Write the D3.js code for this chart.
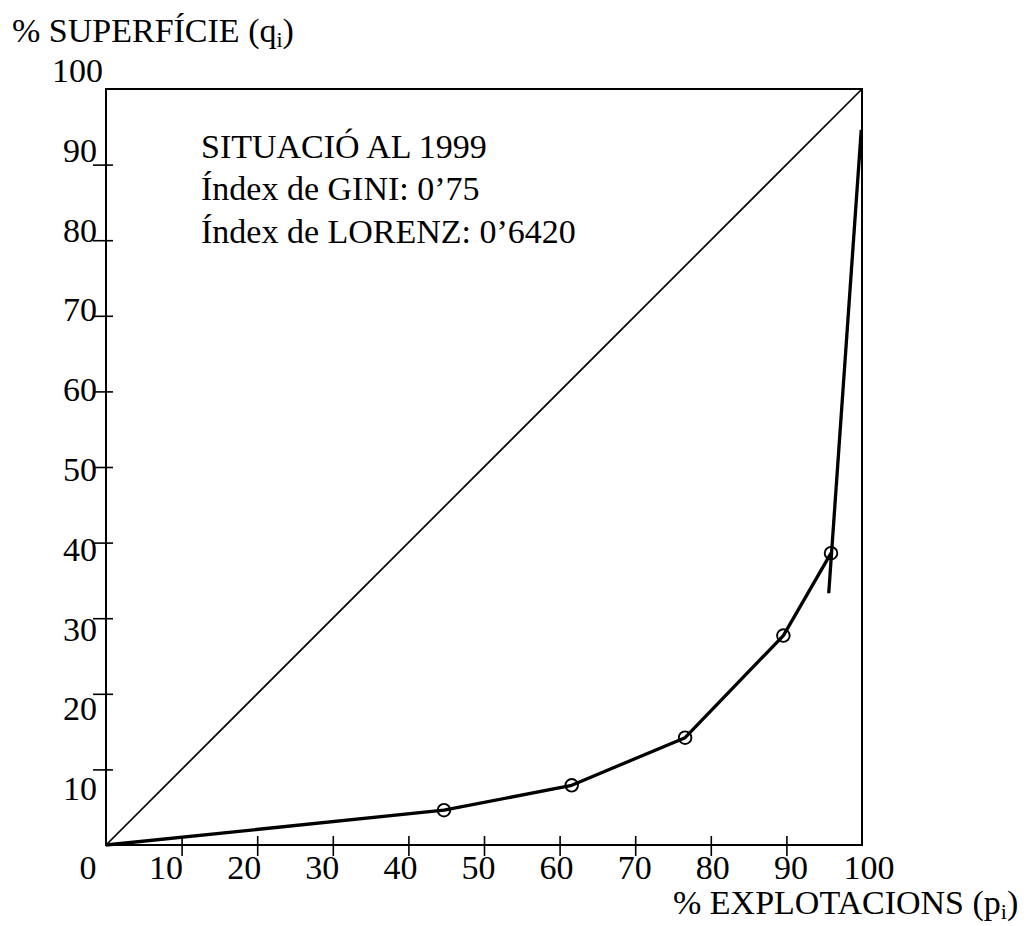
<!DOCTYPE html>
<html>
<head>
<meta charset="utf-8">
<script src="https://cdn.jsdelivr.net/npm/d3@7"></script>
<style>
  body { margin: 0; background: #fff; }
  text { font-family: "Liberation Serif", "Times New Roman", serif; fill: #000; }
</style>
</head>
<body>
<div id="lorenz-canvas"></div>
<script>
// Corba de Lorenz: % explotacions acumulades vs % superfície acumulada
const pctExplotacions = [0, 44.7, 61.6, 76.6, 89.6, 95.9];
const pctSuperficie = [0, 4.6, 7.9, 14.2, 27.7, 38.6];
// tram final (gairebé vertical)
const tailExplotacions = [95.6, 99.9];
const tailSuperficie = [33.3, 94.6];

const tickValues = [10, 20, 30, 40, 50, 60, 70, 80, 90];
const labelValues = [0, 10, 20, 30, 40, 50, 60, 70, 80, 90, 100];
const infoLines = ["SITUACIÓ AL 1999", "Índex de GINI: 0’75", "Índex de LORENZ: 0’6420"];

const canvasWidth = 1030;
const canvasHeight = 926;
const frame = { left: 106, top: 89, right: 862, bottom: 845 };
const fontSize = 34;

const svg = d3.select("#lorenz-canvas")
    .append("svg")
    .attr("width", canvasWidth)
    .attr("height", canvasHeight);

const xScale = d3.scaleLinear().domain([0, 100]).range([frame.left, frame.right]);
const yScale = d3.scaleLinear().domain([0, 100]).range([frame.bottom, frame.top]);

// the printed labels are spaced a bit wider than the ticks
const xLabelScale = d3.scaleLinear().domain([0, 100]).range([88, 869]);
const yLabelScale = d3.scaleLinear().domain([0, 100]).range([880, 82]);

// frame
svg.append("rect")
    .attr("x", xScale(0))
    .attr("y", yScale(100))
    .attr("width", xScale(100) - xScale(0))
    .attr("height", yScale(0) - yScale(100))
    .attr("fill", "none")
    .attr("stroke", "#000")
    .attr("stroke-width", 2);

// ticks through d3 axes, then stretched across the axis line
const xAxis = d3.axisBottom(xScale).tickValues(tickValues).tickFormat("");
const yAxis = d3.axisLeft(yScale).tickValues(tickValues).tickFormat("");

const gx = svg.append("g")
    .attr("transform", `translate(0,${frame.bottom})`)
    .call(xAxis);
gx.select(".domain").remove();
gx.selectAll(".tick line")
    .attr("y1", -9)
    .attr("y2", 11)
    .attr("stroke", "#000")
    .attr("stroke-width", 1.6);

const gy = svg.append("g")
    .attr("transform", `translate(${frame.left},0)`)
    .call(yAxis);
gy.select(".domain").remove();
gy.selectAll(".tick line")
    .attr("x1", 7)
    .attr("x2", -13)
    .attr("stroke", "#000")
    .attr("stroke-width", 1.6);

// tick labels
svg.selectAll(".x-label")
    .data(labelValues)
    .enter()
    .append("text")
    .attr("class", "x-label")
    .attr("x", d => xLabelScale(d))
    .attr("y", 879)
    .attr("text-anchor", "middle")
    .attr("font-size", fontSize)
    .text(d => d);

svg.selectAll(".y-label")
    .data(labelValues.filter(d => d > 0))
    .enter()
    .append("text")
    .attr("class", "y-label")
    .attr("x", d => d === 100 ? 103 : 97)
    .attr("y", d => yLabelScale(d))
    .attr("text-anchor", "end")
    .attr("font-size", fontSize)
    .text(d => d);

// axis titles with subscripts
const addTitle = (x, y, main, sub) => {
    const t = svg.append("text")
        .attr("x", x)
        .attr("y", y)
        .attr("font-size", fontSize);
    t.append("tspan").text(main);
    t.append("tspan").attr("font-size", 22).attr("dy", 5).text(sub);
    t.append("tspan").attr("dy", -5).text(")");
};
addTitle(12, 42, "% SUPERFÍCIE (q", "i");
addTitle(673, 914, "% EXPLOTACIONS (p", "i");

// line of equality
svg.append("line")
    .attr("x1", xScale(0))
    .attr("y1", yScale(0))
    .attr("x2", xScale(100))
    .attr("y2", yScale(100))
    .attr("stroke", "#000")
    .attr("stroke-width", 1.7);

// Lorenz curve
const curve = d3.line()
    .x(d => xScale(d[0]))
    .y(d => yScale(d[1]));

svg.append("path")
    .datum(d3.zip(pctExplotacions, pctSuperficie))
    .attr("d", curve)
    .attr("fill", "none")
    .attr("stroke", "#000")
    .attr("stroke-width", 3.3)
    .attr("stroke-linejoin", "round");

svg.append("path")
    .datum(d3.zip(tailExplotacions, tailSuperficie))
    .attr("d", curve)
    .attr("fill", "none")
    .attr("stroke", "#000")
    .attr("stroke-width", 3.3);

svg.selectAll(".point")
    .data(d3.zip(pctExplotacions, pctSuperficie).slice(1))
    .enter()
    .append("circle")
    .attr("class", "point")
    .attr("cx", d => xScale(d[0]))
    .attr("cy", d => yScale(d[1]))
    .attr("r", 6.3)
    .attr("fill", "none")
    .attr("stroke", "#000")
    .attr("stroke-width", 1.9);

// annotation
svg.selectAll(".info")
    .data(infoLines)
    .enter()
    .append("text")
    .attr("class", "info")
    .attr("x", 201)
    .attr("y", (d, i) => 158 + i * 42.3)
    .attr("font-size", fontSize)
    .text(d => d);
</script>
</body>
</html>
